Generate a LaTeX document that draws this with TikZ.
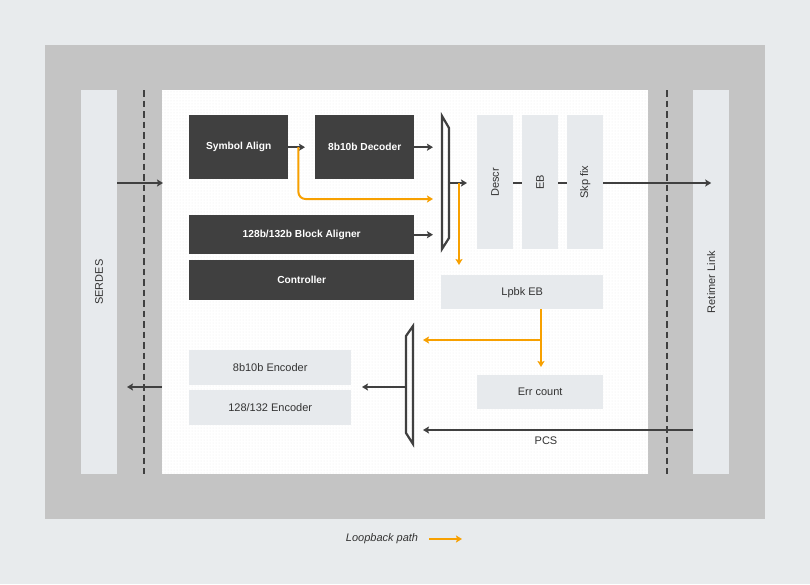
\documentclass[tikz,border=0pt]{standalone}
\usepackage{fontspec}
\setmainfont{Liberation Sans}
\usetikzlibrary{arrows.meta,calc,patterns}
\definecolor{bgc}{HTML}{E8EBED}
\definecolor{outerc}{HTML}{C4C4C4}
\definecolor{darkc}{HTML}{404040}
\definecolor{lightc}{HTML}{E7EAED}
\definecolor{linec}{HTML}{404040}
\definecolor{orangec}{HTML}{F7A000}
\definecolor{txtc}{HTML}{333333}
\begin{document}
\begin{tikzpicture}[x=1pt,y=-1pt,
  darkbox/.style={fill=darkc, text=white, inner sep=0pt, anchor=north west, font=\fontsize{10.2}{12}\selectfont\bfseries},
  lightbox/.style={fill=lightc, text=txtc, inner sep=0pt, anchor=north west, font=\fontsize{11}{13}\selectfont},
  strip/.style={fill=lightc, inner sep=0pt, anchor=north west},
  lbl/.style={text=txtc, font=\fontsize{11}{13}\selectfont, inner sep=0pt},
  arr/.style={draw=linec, line width=2.1pt, -{Stealth[length=6pt,width=7pt,inset=1.2pt]}},
  plain/.style={draw=linec, line width=2.1pt},
  loopc/.style={draw=orangec, line width=2pt, -{Stealth[length=6pt,width=7pt,inset=1.2pt]}},
  muxst/.style={draw=linec, line width=2.2pt, line join=miter},
  dashln/.style={draw=linec, line width=2pt, dash pattern=on 6.5pt off 4pt}]
\useasboundingbox (0,0) rectangle (810,584);
\fill[bgc] (0,0) rectangle (810,584);
\fill[outerc] (45,45) rectangle (765,519);
% side strips
\node[strip, minimum width=36pt, minimum height=384pt] (serdes) at (81,90) {};
\node[lbl, rotate=90] (serdeslbl) at (serdes.center) {SERDES};
\node[strip, minimum width=36pt, minimum height=384pt] (retimer) at (693,90) {};
\node[lbl, rotate=90] (retimerlbl) at (retimer.center) {Retimer Link};
% inner panel
\node[fill=white, inner sep=0pt, anchor=north west, minimum width=486pt, minimum height=384pt] (panel) at (162,90) {};
\fill[pattern=dots, pattern color=black!7] (162,90) rectangle (648,474);
% dashed lines
\coordinate (dlt) at (144,90); \coordinate (dlb) at (144,474);
\coordinate (drt) at (667,90); \coordinate (drb) at (667,474);
\draw[dashln] (dlt) -- (dlb);
\draw[dashln] (drt) -- (drb);
% dark blocks
\node[darkbox, minimum width=99pt, minimum height=64pt] (sym) at (189,115) {Symbol Align};
\node[darkbox, minimum width=99pt, minimum height=64pt] (dec) at (315,115) {8b10b Decoder};
\node[darkbox, minimum width=225pt, minimum height=39pt] (bal) at (189,215) {128b/132b Block Aligner};
\node[darkbox, minimum width=225pt, minimum height=40pt] (ctrl) at (189,260) {Controller};
% light blocks
\node[lightbox, minimum width=36pt, minimum height=134pt] (descr) at (477,115) {};
\node[lbl, rotate=90] (descrlbl) at (descr.center) {Descr};
\node[lightbox, minimum width=36pt, minimum height=134pt] (eb) at (522,115) {};
\node[lbl, rotate=90] (eblbl) at (eb.center) {EB};
\node[lightbox, minimum width=36pt, minimum height=134pt] (skp) at (567,115) {};
\node[lbl, rotate=90] (skplbl) at (skp.center) {Skp fix};
\node[lightbox, minimum width=162pt, minimum height=34pt] (lpbk) at (441,275) {Lpbk EB};
\node[lightbox, minimum width=126pt, minimum height=34pt] (err) at (477,375) {Err count};
\node[lightbox, minimum width=162pt, minimum height=35pt] (enc8) at (189,350) {8b10b Encoder};
\node[lightbox, minimum width=162pt, minimum height=35pt] (enc128) at (189,390) {128/132 Encoder};
% muxes
\draw[muxst] (442,116) -- (449,128) -- (449,238) -- (442,249) -- cycle;
\draw[muxst] (406,336) -- (413,326) -- (413,444) -- (406,433) -- cycle;
\coordinate (m1in) at (433,0);
\coordinate (m1out) at (449,183);
\coordinate (m2out) at (406,387);
\coordinate (m2in) at (423,0);
% input from SERDES
\coordinate (serin) at (117,183);
\draw[arr, shorten >=-1pt] (serin) -- (serin -| panel.west);
% top path
\draw[arr, shorten >=10pt] (sym.east) -- (dec.west);
\draw[arr] (dec.east) -- (dec.east -| m1in);
\draw[arr] (bal.east) -- (bal.east -| m1in);
\coordinate (tap1) at ($(sym.east)+(10,0)$);
\coordinate (lp1) at (433,199);
\draw[loopc, rounded corners=7pt] (tap1) -- (tap1 |- lp1) -- (lp1);
\draw[arr, shorten >=10pt] (m1out) -- (m1out -| descr.west);
\coordinate (tap2) at (459,183);
\draw[loopc, shorten >=10pt] (tap2) -- (tap2 |- lpbk.north);
\draw[plain] (descr.east |- m1out) -- (eb.west |- m1out);
\draw[plain] (eb.east |- m1out) -- (skp.west |- m1out);
\draw[arr] (skp.east |- m1out) -- (retimer.center |- m1out);
% loopback from Lpbk EB
\coordinate (tap3) at (541,309);
\coordinate (br) at (541,340);
\draw[loopc, shorten >=8pt] (tap3) -- (tap3 |- err.north);
\draw[loopc] (br) -- (br -| m2in);
% PCS
\coordinate (pcs) at (693,430);
\draw[arr] (pcs) -- (pcs -| m2in);
\node[lbl] (pcslbl) at (546,441) {PCS};
% bottom mux out
\coordinate (encgap) at (351,387);
\draw[arr, shorten >=11pt] (m2out) -- (encgap);
\coordinate (outl) at (127,387);
\draw[arr] (outl -| panel.west) -- (outl);
% legend
\node[text=txtc, font=\fontsize{11}{13}\selectfont\itshape, inner sep=0pt] (lg) at (382,539) {Loopback path};
\coordinate (lga) at (429,539); \coordinate (lgb) at (462,539);
\draw[loopc] (lga) -- (lgb);
\end{tikzpicture}
\end{document}
